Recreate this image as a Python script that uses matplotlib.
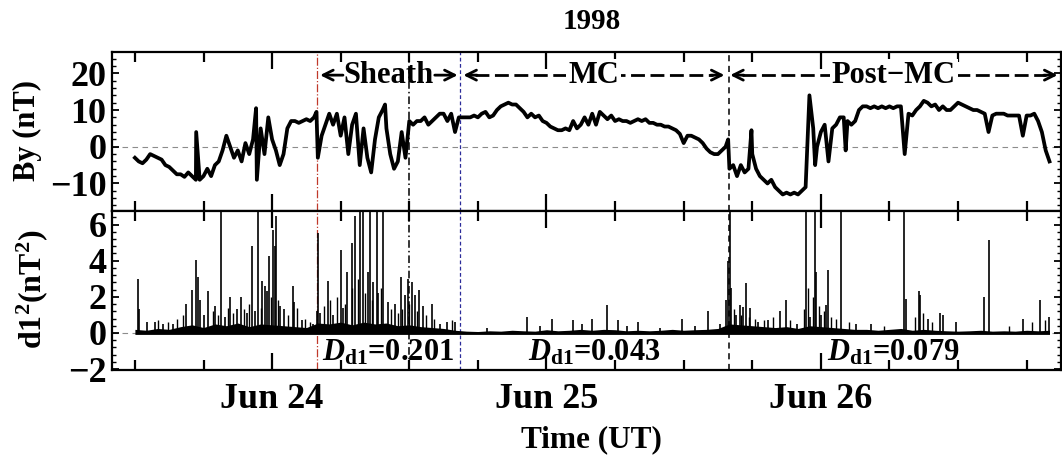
import matplotlib
matplotlib.use('Agg')
import matplotlib.pyplot as plt
import matplotlib.dates as mdates
from matplotlib.ticker import MultipleLocator, FixedLocator
import numpy as np
import pandas as pd

plt.rcParams['font.family'] = ['Liberation Serif', 'DejaVu Serif']
plt.rcParams['font.weight'] = 'bold'
plt.rcParams['mathtext.fontset'] = 'custom'
plt.rcParams['mathtext.rm'] = 'Liberation Serif:bold'
plt.rcParams['mathtext.bf'] = 'Liberation Serif:bold'
plt.rcParams['mathtext.it'] = 'Liberation Serif:italic:bold'

t0 = pd.Timestamp('1998-06-23 00:00')

# By (nT), read every 20 min from Jun 23 12:00 to Jun 26 20:00
by_start = '1998-06-23 12:00'
by_values = [
    -3, -4, -4.5,  -3.5, -2, -2.5,  -3, -3.5, -5,  -5.5, -6.5, -7.5,
    -7.5, -8.2, -7,  -8, -9, -9,  -8, -6, -8,  -5, -4, -1,
    3, 0, -3,  -1, -4, 1,  -2, 2, -9,  5, -2, 8,
    2, -1, -5,  -2, 5, 7,  7, 6.5, 7,  7.5, 7, 8,
    -3, 3, 6,  9, 6, 9,  3, 8, -2,  6, 9, -5,
    5, -3, -7,  2, 8, 10,  5, -2, -6,  -4, 4, -3,
    7, 6, 7,  7, 8, 6,  7, 8, 9,  9, 7, 9,
    4, 8, 8,  8, 8, 8.5,  8, 9, 9.5,  8, 8.5, 10,
    11, 11.5, 12,  11.5, 11.5, 10.5,  9.5, 8, 9,  8, 8.5, 7,
    6.5, 5.5, 5,  4.5, 4.5, 5,  4.5, 7, 5,  6, 8, 6,
    9, 6, 9.5,  8.5, 7.5, 8.5,  7, 7.5, 7,  7, 6.5, 7,
    7.5, 7, 7.5,  6.5, 6.5, 6,  6, 5.5, 5.5,  5, 4.5, 3.5,
    1, 3, 3,  2.5, 2, 1,  -0.5, -1.5, -2,  -2, -1, 0,
    -6, -5, -8,  -5, -7, -6,  -2, -6, -8,  -9, -10, -9,
    -11, -12, -13,  -12.5, -13, -12.5,  -13, -12, -11,  14, 5, 0,
    4, 6, -4,  5, 6, 8,  8, 7, 6,  7, 10, 11,
    11, 10.5, 11,  10.5, 11, 10.5,  11, 10.5, 11,  11, -2, 9,
    8.5, 10, 11,  12.5, 12, 11,  11.5, 10, 11,  10, 10, 11,
    12, 11.5, 11,  10.5, 10, 10,  9.5, 9, 4,  8.5, 9, 9,
    9, 8.5, 8.5,  8.5, 8.5, 3,  8.5, 8.5, 9,  7, 4, -1,
    -4,
]
# short spikes between the 20-min points (hours after Jun 23 00:00)
by_spike_hours = [17.36, 22.6, 27.88, 33.88, 63.89, 65.93, 71.5, 74.17]
by_spike_values = [4, 10.5, 9.5, 11.5, 2, 4.5, -5, -1]

# d1^2 (nT^2): the larger spikes
d1_hours = [
    12.26, 12.40, 13.05, 13.77, 14.5, 15.37, 16.48, 16.98, 17.33, 17.56,
    17.7, 18.06, 18.43, 19.02, 19.51, 19.9, 20.33, 20.91, 21.29, 21.79,
    22.28, 22.51, 22.75, 23.1, 23.39, 23.53, 23.77, 24.06, 24.26, 24.35,
    24.7, 25.08, 25.81, 25.92, 26.6, 27.61, 27.9, 28.05, 28.2, 28.92,
    29.36, 30.0, 30.23, 30.53, 30.97, 31.26, 31.69, 31.93, 32.42, 32.57,
    32.86, 33.15, 33.3, 33.73, 34.17, 34.75, 35.25, 35.63, 35.92, 36.21,
    36.5, 36.88, 37.23, 37.96, 38.69, 39.27, 40.0, 42.76, 46.26, 47.43,
    48.45, 50.34, 51.07, 51.95, 53.26, 54.28, 55.01, 56.03, 57.92, 59.82,
    60.98, 62.09, 63.16, 63.74, 63.89, 64.03, 64.18, 64.62, 64.91, 65.2,
    65.49, 65.84, 66.51, 67.38, 68.41, 68.93, 69.87, 70.74, 71.03, 71.47,
    71.55, 72.05, 72.43, 72.63, 73.8, 75.11, 76.42, 79.27, 79.48, 80.56,
    80.64, 81.37, 82.39, 82.68, 83.85, 86.24, 86.71, 89.69, 91.13, 91.95,
]
d1_values = [
    3.0, 1.3, 0.6, 0.6, 0.5, 0.5, 1.6, 2.4, 4.05, 3.1,
    1.8, 1.0, 2.3, 1.5, 7, 0.9, 2.0, 1.3, 2.0, 1.1,
    4.8, 1.2, 7, 2.85, 2.6, 2.3, 4.25, 5.7, 4.8, 6.5,
    1.5, 1.3, 2.6, 1.7, 0.7, 0.5, 1.2, 5.55, 1.1, 2.85,
    1.0, 4.6, 1.4, 3.4, 5.0, 6.5, 7, 7, 3.4, 7,
    2.8, 7, 2.2, 7, 1.7, 1.6, 3.1, 2.1, 3.0, 2.8,
    2.1, 2.4, 1.5, 1.6, 0.5, 0.6, 0.6, 0.3, 0.9, 0.4,
    0.8, 0.7, 0.5, 0.8, 1.55, 0.7, 0.4, 0.6, 0.3, 0.8,
    0.4, 1.2, 0.5, 1.8, 4.0, 7, 2.5, 1.0, 1.55, 1.45,
    2.75, 1.4, 0.6, 0.7, 1.2, 1.8, 0.5, 7, 0.9, 7,
    3.4, 1.0, 1.55, 3.5, 7, 0.5, 0.5, 7, 1.9, 2.3,
    2.1, 0.8, 1.1, 1.0, 0.6, 2.0, 5.15, 0.8, 1.8, 0.9,
]
# d1^2: smaller spikes inside the dense parts
d1_small_hours = [
    14.0, 14.9, 15.7, 16.2, 18.8, 19.3, 20.1, 20.6, 21.5, 22.0, 23.0, 23.9,
    24.5, 25.4, 26.2, 26.9, 27.3, 28.5, 29.1, 29.7, 30.4, 31.0, 31.5, 32.1,
    32.7, 33.5, 34.4, 35.0, 35.4, 36.0, 36.7, 37.5, 38.2, 39.7, 64.4, 65.0,
    65.7, 66.2, 67.0, 67.8, 69.3, 70.5, 70.9, 71.3, 71.8, 72.3, 72.9, 73.3,
    74.5, 77.5, 80.2, 80.9, 81.7, 88.5, 90.5, 91.6,
]
d1_small_values = [
    0.7, 0.6, 0.8, 1.0, 1.2, 1.0, 1.4, 1.1, 1.3, 1.6, 1.4, 2.0,
    1.8, 1.0, 1.4, 0.8, 0.6, 1.5, 1.8, 2.0, 1.6, 2.5, 3.0, 2.2,
    1.8, 2.5, 1.3, 1.1, 1.3, 1.6, 1.2, 1.0, 0.8, 0.7, 1.3, 1.0,
    0.9, 0.8, 0.7, 0.9, 0.7, 1.3, 2.5, 2.0, 1.5, 1.2, 0.9, 0.8,
    0.6, 0.4, 0.9, 1.1, 0.6, 0.4, 0.6, 0.7,
]
# thickness of the dense low-level band near zero, hourly from Jun 23 12:00
band_start = '1998-06-23 12:00'
band_values = [
    0.2, 0.15, 0.25, 0.2,
    0.35, 0.45, 0.3, 0.5, 0.4, 0.55, 0.35, 0.5, 0.45, 0.4, 0.35, 0.3,
    0.55, 0.5, 0.6, 0.45, 0.6, 0.5, 0.55, 0.4, 0.45, 0.35, 0.3, 0.25,
    0.15, 0.1, 0.08, 0.12, 0.1, 0.15, 0.12, 0.1, 0.18, 0.12, 0.15, 0.2,
    0.15, 0.2, 0.18, 0.12, 0.15, 0.12, 0.15, 0.2, 0.15, 0.18, 0.2, 0.25,
    0.5, 0.45, 0.4, 0.35, 0.3, 0.35, 0.25, 0.4, 0.35, 0.3, 0.25, 0.2,
    0.2, 0.15, 0.2, 0.25, 0.15, 0.2, 0.15, 0.12, 0.1, 0.12, 0.15, 0.1,
    0.12, 0.1, 0.15, 0.12, 0.15,
]

# boundaries (hours after Jun 23 00:00)
shock_h = 27.9
sheath_mark_h = 36.0
mc_start_h = 40.43
mc_end_h = 63.97
post_end_h = 92.7
dd1_labels = ['0.201', '0.043', '0.079']


def H(h):
    return t0 + pd.to_timedelta(h, unit='h')


by_times = pd.date_range(by_start, periods=len(by_values), freq='20min')
by = pd.concat([pd.Series(by_values, index=by_times),
                pd.Series(by_spike_values, index=H(np.array(by_spike_hours)))]).sort_index()
band_t = pd.date_range(band_start, periods=len(band_values), freq='1h')

fig = plt.figure(figsize=(10.62, 4.66), dpi=100)
ax1 = fig.add_axes([0.1055, 0.5472, 0.8935, 0.3412])
ax2 = fig.add_axes([0.1055, 0.206, 0.8935, 0.3412], sharex=ax1)

ax1.plot(by.index, by.values, color='k', lw=2.7, zorder=3)
ax1.axhline(0, color='0.55', lw=0.8, ls=(0, (5, 4)), zorder=1)

ax2.fill_between(band_t, -0.08, band_values, color='k', lw=0, zorder=3)
ax2.vlines(H(np.array(d1_hours)), 0, d1_values, color='k', lw=1.2, zorder=3)
ax2.vlines(H(np.array(d1_small_hours)), 0, d1_small_values, color='k', lw=1.0, zorder=3)
ax2.axhline(0, color='0.55', lw=0.8, ls=(0, (5, 4)), zorder=1)

for ax in (ax1, ax2):
    ax.axvline(H(shock_h), color='#c0392b', lw=0.9, ls='-.', zorder=2)
    ax.axvline(H(sheath_mark_h), color='k', lw=1.1, ls=(0, (5, 2, 1, 2)), zorder=2)
    ax.axvline(H(mc_start_h), color='#2c2c9a', lw=0.9, ls=(0, (3, 2)), zorder=2)
    ax.axvline(H(mc_end_h), color='k', lw=1.1, ls=(0, (4, 3)), zorder=2)
    for s in ax.spines.values():
        s.set_linewidth(1.6)
    ax.xaxis.set_major_locator(mdates.DayLocator())
    ax.xaxis.set_minor_locator(mdates.HourLocator(byhour=[6, 12, 18]))
    ax.xaxis.set_major_formatter(mdates.DateFormatter('%b %d'))
    ax.tick_params(axis='x', which='major', direction='in', length=12, width=1.6,
                   top=True, bottom=True, labelsize=26, pad=9)
    ax.tick_params(axis='x', which='minor', direction='in', length=7, width=1.6,
                   top=True, bottom=True)
    ax.tick_params(axis='y', which='major', direction='in', length=5, width=1.3,
                   left=True, right=True, labelsize=26, pad=4)
    ax.tick_params(axis='y', which='minor', direction='in', length=3, width=1.0,
                   left=True, right=True)

ax1.set_xlim(H(10), H(93))
ax1.set_ylim(-17.5, 25.8)
ax1.yaxis.set_major_locator(FixedLocator([-10, 0, 10, 20]))
ax1.yaxis.set_minor_locator(MultipleLocator(2))
ax1.tick_params(axis='x', labelbottom=False)

ax2.set_ylim(-2.05, 6.75)
ax2.yaxis.set_major_locator(FixedLocator([-2, 0, 2, 4, 6]))
ax2.yaxis.set_minor_locator(MultipleLocator(0.4))

# region annotations
ya = 19.5
arrow = dict(arrowstyle='->', lw=2.0, color='k', shrinkA=0, shrinkB=0, mutation_scale=18)
ax1.text(H((shock_h + mc_start_h) / 2), ya, 'Sheath', ha='center', va='center',
         fontsize=22, zorder=5)
ax1.annotate('', xy=(H(shock_h + 0.3), ya), xytext=(H(shock_h + 2.3), ya),
             arrowprops=arrow, zorder=4)
ax1.annotate('', xy=(H(mc_start_h - 0.2), ya), xytext=(H(mc_start_h - 2.2), ya),
             arrowprops=arrow, zorder=4)
for (a, b, lab) in [(mc_start_h + 0.3, mc_end_h - 0.4, 'MC'),
                    (mc_end_h + 0.1, post_end_h, 'Post\u2212MC')]:
    ax1.plot([H(a + 1.0), H(b - 1.0)], [ya, ya], color='k', lw=2.0, ls=(0, (5, 2)),
             solid_capstyle='butt', zorder=4)
    ax1.annotate('', xy=(H(a), ya), xytext=(H(a + 1.2), ya), arrowprops=arrow, zorder=4)
    ax1.annotate('', xy=(H(b), ya), xytext=(H(b - 1.2), ya), arrowprops=arrow, zorder=4)
    ax1.text(H((a + b) / 2), ya, lab, ha='center', va='center', fontsize=22, zorder=5,
             bbox=dict(facecolor='white', edgecolor='none', pad=1.5))

centers = [(shock_h + mc_start_h) / 2, (mc_start_h + mc_end_h) / 2, (mc_end_h + post_end_h) / 2]
for c, v in zip(centers, dd1_labels):
    ax2.text(H(c), -1.5, r'$D_{\mathbf{d1}}$=' + v, ha='center', va='baseline',
             fontsize=22, zorder=5)

fig.text(0.026, 0.719, 'By (nT)', rotation=90, ha='center', va='center', fontsize=22)
fig.text(0.030, 0.378, r'd1$^{\mathbf{2}}$(nT$^{\mathbf{2}}$)', rotation=90, ha='center',
         va='center', fontsize=23)
fig.text(0.557, 0.953, '1998', ha='center', va='center', fontsize=21)
fig.text(0.557, 0.056, 'Time (UT)', ha='center', va='center', fontsize=22.5)

fig.savefig('out.png', dpi=100)
